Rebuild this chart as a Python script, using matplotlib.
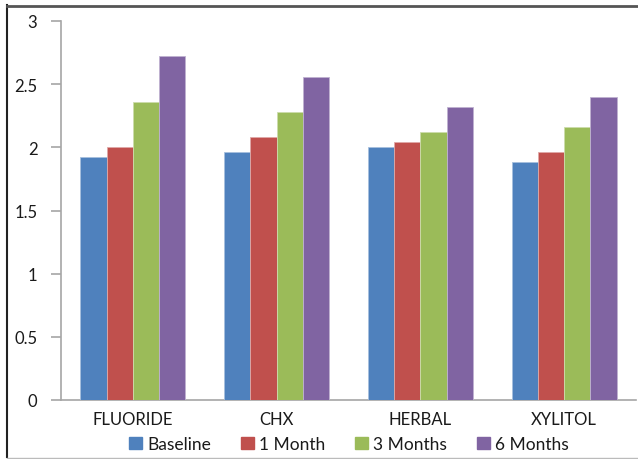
import matplotlib
matplotlib.use("Agg")
import matplotlib.pyplot as plt
from matplotlib.patches import Patch
from matplotlib.lines import Line2D
import numpy as np

categories = ["FLUORIDE", "CHX", "HERBAL", "XYLITOL"]
series_names = ["Baseline", "1 Month", "3 Months", "6 Months"]
baseline = [1.92, 1.96, 2.00, 1.88]
month1 = [2.00, 2.08, 2.04, 1.96]
month3 = [2.36, 2.28, 2.12, 2.16]
month6 = [2.72, 2.56, 2.32, 2.40]
yticks = [0, 0.5, 1, 1.5, 2, 2.5, 3]
ytick_labels = ["0", "0.5", "1", "1.5", "2", "2.5", "3"]

colors = ["#4F81BD", "#C0504D", "#9BBB59", "#8064A2"]
edge_colors = ["#A7C0DE", "#DFA9A8", "#CDDDAC", "#BFB2D0"]

plt.rcParams['font.family'] = ['Lato', 'DejaVu Sans']

fig = plt.figure(figsize=(6.38, 4.6), dpi=100)
W, H = 638, 460
ax = fig.add_axes([61 / W, (H - 401) / H, (636 - 61) / W, (401 - 22) / H])

x = np.arange(len(categories))
bw = 26.25 / 144.0
series = [baseline, month1, month3, month6]
for i, (vals, c, ec) in enumerate(zip(series, colors, edge_colors)):
    ax.bar(x + (i - 1.5) * bw, vals, width=bw, color=c, edgecolor=ec,
           linewidth=0.6, label=series_names[i], zorder=3)

ax.set_xlim(-0.5, len(categories) - 0.5)
ax.set_ylim(0, 3)
ax.set_yticks(yticks)
ax.set_yticklabels(ytick_labels)
ax.set_xticks(x)
ax.set_xticklabels(categories)

for s in ["top", "right"]:
    ax.spines[s].set_visible(False)
for s in ["left", "bottom"]:
    ax.spines[s].set_color("#A6A6A6")
    ax.spines[s].set_linewidth(1.2)

ax.tick_params(axis="y", length=7, width=1.2, color="#A6A6A6",
               labelsize=12, pad=10, labelcolor="#1a1a1a")
ax.tick_params(axis="x", length=0, labelsize=12, pad=8, labelcolor="#1a1a1a")

handles = [Patch(facecolor=c, edgecolor=c) for c in colors]
fig.legend(handles, series_names, loc="center", bbox_to_anchor=(349 / W, (H - 445) / H),
           ncol=4, frameon=False, fontsize=12.5, handlelength=0.75, handleheight=0.75,
           handletextpad=0.3, columnspacing=1.7, borderaxespad=0, borderpad=0,
           labelcolor="#1a1a1a")

# outer frame
fig.add_artist(Line2D([7 / W, 7 / W], [(H - 6) / H, (H - 458) / H], color="#222222",
                      linewidth=1.5, transform=fig.transFigure))
fig.add_artist(Line2D([7 / W, 1.0], [(H - 6.5) / H, (H - 6.5) / H], color="#555555",
                      linewidth=2.0, transform=fig.transFigure))
fig.add_artist(Line2D([7 / W, 1.0], [(H - 458.5) / H, (H - 458.5) / H], color="#BBBBBB",
                      linewidth=1.0, transform=fig.transFigure))

fig.savefig("out.png", dpi=100)
